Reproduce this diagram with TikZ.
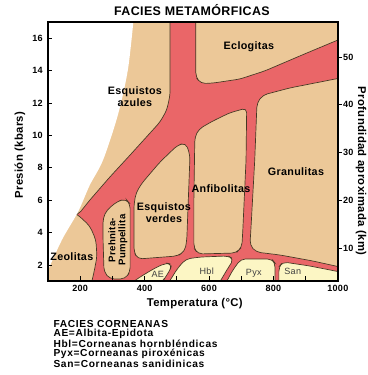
\documentclass[tikz,border=0pt]{standalone}
\usepackage{fontspec}
\setmainfont{Liberation Sans}[LetterSpace=3]
\newfontfamily\legendfont{Liberation Sans}[LetterSpace=6.5]
\usetikzlibrary{positioning}

\definecolor{tanfill}{RGB}{236,200,152}
\definecolor{redfill}{RGB}{234,102,104}
\definecolor{creamfill}{RGB}{252,246,196}
\definecolor{edge}{RGB}{70,55,35}

\begin{document}
\begin{tikzpicture}[x=1cm,y=0.503cm]
\tikzstyle{facies} = [fill=tanfill, draw=edge, line width=0.6pt, rounded corners=4pt]
\tikzstyle{hornfels} = [fill=creamfill, draw=edge, line width=0.6pt, rounded corners=4pt]
\tikzstyle{fname} = [font=\fontsize{9.5}{10.5}\selectfont\bfseries, align=center]
\tikzstyle{hname} = [font=\fontsize{8}{9}\selectfont, text=black!75]
\tikzstyle{ticklab} = [font=\fontsize{8}{9}\selectfont\bfseries, inner sep=1pt]
\tikzstyle{axlab} = [font=\fontsize{10}{11}\selectfont\bfseries]

\useasboundingbox (-0.49,-4.79) rectangle (10.93,18.36);

%regions
\begin{scope}
\clip (1,1) rectangle (10,17);
\fill[redfill] (1,1) rectangle (10,17);
% esquistos azules
\filldraw[facies] (2.5,17.3) -- (4.79,17.3) -- (4.79,12.49) -- (4.69,11.57) -- (4.48,10.83) -- (4.17,10.15) -- (3.55,8.79) -- (2.92,7.43) -- (2.30,6.01) -- (1.93,5.09) -- (1.2,5.0) -- cycle;
% eclogitas
\filldraw[facies] (5.59,17.3) -- (5.59,13.6) -- (5.75,13.2) -- (6.12,13.23) -- (6.96,13.48) -- (7.73,13.98) -- (9.04,15.09) -- (10.22,16.07) -- (10.22,17.3) -- cycle;
% granulitas
\filldraw[facies] (10.22,13.60) -- (8.51,12.93) -- (7.67,12.49) -- (7.49,12.0) -- (7.42,8.48) -- (7.30,4.16) -- (7.27,3.23) -- (7.46,2.80) -- (8.20,2.62) -- (9.22,2.25) -- (10.22,1.81) -- cycle;
% anfibolitas
\filldraw[facies] (7.17,11.69) -- (6.65,11.40) -- (6.12,10.89) -- (5.69,10.40) -- (5.56,9.90) -- (5.53,6.01) -- (5.53,3.05) -- (5.66,2.68) -- (6.84,2.74) -- (7.02,3.11) -- (7.05,4.16) -- (7.15,8.48) -- cycle;
% esquistos verdes
\filldraw[facies] (5.28,9.53) -- (5.03,9.41) -- (4.48,8.36) -- (3.92,7.06) -- (3.73,6.44) -- (3.67,5.70) -- (3.67,2.80) -- (3.79,2.37) -- (5.03,2.56) -- (5.25,2.86) -- (5.31,3.54) -- (5.41,8.79) -- cycle;
% prehnita-pumpellita
\filldraw[facies] (2.83,5.40) -- (3.17,5.95) -- (3.42,6.07) -- (3.55,5.77) -- (3.55,1.57) -- (3.39,1.14) -- (2.92,1.14) -- (2.74,1.57) -- (2.71,3.54) -- (2.71,4.90) -- cycle;
% zeolitas
\filldraw[facies] (1.37,5.70) -- (1.93,5.09) -- (2.30,4.41) -- (2.49,3.54) -- (2.52,2.49) -- (2.43,1.57) -- (2.30,0.46) -- (0.75,0.46) -- cycle;
% corneanas
\filldraw[hornfels] (3.55,0.83) -- (3.86,1.26) -- (4.32,1.81) -- (4.66,2.12) -- (4.85,2.06) -- (4.79,1.69) -- (4.57,1.01) -- (4.54,0.83) -- cycle;
\filldraw[hornfels] (4.72,0.83) -- (5.03,1.81) -- (5.28,2.37) -- (5.72,2.49) -- (6.59,2.56) -- (6.77,2.37) -- (6.59,1.81) -- (6.28,0.77) -- cycle;
\filldraw[hornfels] (6.49,0.77) -- (6.74,1.69) -- (6.99,2.37) -- (7.95,2.37) -- (8.05,2.12) -- (8.05,0.77) -- cycle;
\filldraw[hornfels] (8.17,0.77) -- (8.17,1.88) -- (8.29,2.19) -- (9.13,1.94) -- (10.22,1.51) -- (10.22,0.77) -- cycle;
% empty corner
\fill[white] (0.9,17.2) -- plot[smooth] coordinates {(3.66,17.2) (3.48,14.04) (3.17,11.26) (2.71,8.48) (2.30,6.94) (1.93,5.27) (1.43,3.54) (0.95,1.45)} -- cycle;
\end{scope}

%axes
\draw[line width=1.3pt] (1,1) rectangle (10,17);
\foreach \p in {2,4,...,16} {
  \draw[thick] (1,\p) -- (1.13,\p);
  \node (yl\p) [ticklab, anchor=east] at (0.88,\p) {\p};
}
\foreach \t in {2,...,9} \draw[thick] (\t,1) -- (\t,1.3);
\foreach \t/\lab in {2/200,4/400,6/600,8/800,10/1000}
  \node (xl\t) [ticklab] at (\t,0.58) {\lab};
\foreach \d in {10,20,...,50} {
  \draw[thick] (10,{0.2948*\d+0.1}) -- (10.13,{0.2948*\d+0.1});
  \node (zl\d) [ticklab, anchor=west] at (10.12,{0.2948*\d+0.1}) {\d};
}

%labels
\node (title) [axlab, font=\fontsize{11}{12}\selectfont\bfseries] at (5.47,17.74) {FACIES METAMÓRFICAS};
\node (xlab) [axlab] at (5.56,-0.41) {Temperatura (°C)};
\node (ylab) [axlab, rotate=90] at (0.13,8.79) {Presión (kbars)};
\node (zlab) [axlab, rotate=-90] at (10.72,7.80) {Profundidad aproximada (km)};

\node (eclog) [fname] at (7.24,15.46) {Eclogitas};
\node (azul) [fname] at (3.70,12.37) {Esquistos\\azules};
\node (granul) [fname] at (8.70,7.74) {Granulitas};
\node (anfib) [fname] at (6.37,6.69) {Anfibolitas};
\node (verde) [fname] at (4.60,5.21) {Esquistos\\verdes};
\node (prehn) [fname, rotate=90, font=\fontsize{8.5}{9}\selectfont\bfseries] at (3.17,3.54) {Prehnita-\\Pumpellita};
\node (zeol) [fname] at (1.74,2.49) {Zeolitas};
\node (ae) [hname] at (4.41,1.44) {AE};
\node (hbl) [hname] at (5.93,1.63) {Hbl};
\node (pyx) [hname] at (7.39,1.51) {Pyx};
\node (san) [hname] at (8.60,1.63) {San};

\node (legend) [anchor=north west, align=left, inner sep=0pt, font=\legendfont\fontsize{9}{8.3}\selectfont\bfseries] at (1.165,-1.40) {FACIES CORNEANAS\\AE=Albita-Epidota\\Hbl=Corneanas hornbléndicas\\Pyx=Corneanas piroxénicas\\San=Corneanas sanidinicas};
\end{tikzpicture}
\end{document}
